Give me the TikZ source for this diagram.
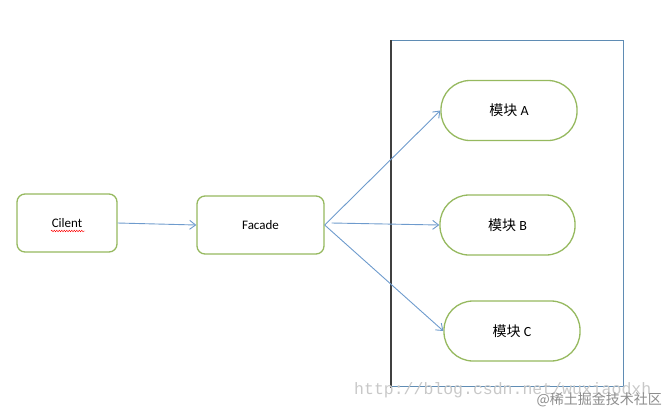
\documentclass[tikz,border=0pt]{standalone}
\usepackage{fontspec}
\setmainfont{Carlito}
\newfontfamily\cjk{Noto Sans CJK SC}
\newfontfamily\wmmono{Liberation Mono}
\usetikzlibrary{arrows.meta,decorations.pathmorphing}
\definecolor{boxgreen}{RGB}{150,185,95}
\definecolor{arrowblue}{RGB}{110,155,205}
\definecolor{frameblue}{RGB}{95,140,180}
\definecolor{wmgray}{RGB}{200,200,200}
\tikzset{
  rbox/.style={draw=boxgreen,line width=1.3pt,rounded corners=8pt,minimum width=100pt,minimum height=58pt,font=\fontsize{13}{15}\selectfont,fill=white},
  pill/.style={draw=boxgreen,line width=1.3pt,rounded corners=29pt,minimum width=136pt,minimum height=60pt,font=\fontsize{14}{16}\selectfont,fill=white},
  conn/.style={draw=arrowblue,line width=0.9pt,-{Straight Barb[length=6pt,width=9pt,line width=0.9pt]}},
}
\begin{document}
\begin{tikzpicture}[x=1pt,y=-1pt]
\useasboundingbox (0,0) rectangle (666,408);
% frame
\draw[frameblue,line width=1pt] (391,40) -- (623,40) -- (623,386) -- (391,386);
\draw[black!75,line width=1.4pt] (391,40) -- (391,388);
% nodes
\node[rbox] (cilent) at (67,223) {Cilent};
\draw[red,line width=0.4pt,decorate,decoration={snake,amplitude=0.8pt,segment length=2.5pt}] (51,231) -- (85,231);
\node[rbox,minimum width=127pt] (facade) at (260.5,225) {Facade};
\node[pill] (ma) at (509,110.5) {{\cjk 模块} A};
\node[pill,minimum width=135pt] (mb) at (507.5,225) {{\cjk 模块} B};
\node[pill] (mc) at (512,331) {{\cjk 模块} C};
% connectors
\draw[conn] (cilent.east) -- (facade.west);
\draw[conn] (facade.east) -- (ma.west);
\draw[conn] ([xshift=7pt,yshift=2pt]facade.east) -- (mb.west);
\draw[conn] (facade.east) -- (mc.west);
% watermark
\node[anchor=base west,text=wmgray,font=\wmmono\fontsize{16.5}{18}\selectfont,inner sep=0] (wm1) at (354,394) {http://blog.csdn.net/wuxiaodxh};
\node[anchor=base east,text=black!45,font=\cjk\fontsize{14}{16}\selectfont,inner sep=0] (wm2) at (662,404) {@稀土掘金技术社区};
\end{tikzpicture}
\end{document}
